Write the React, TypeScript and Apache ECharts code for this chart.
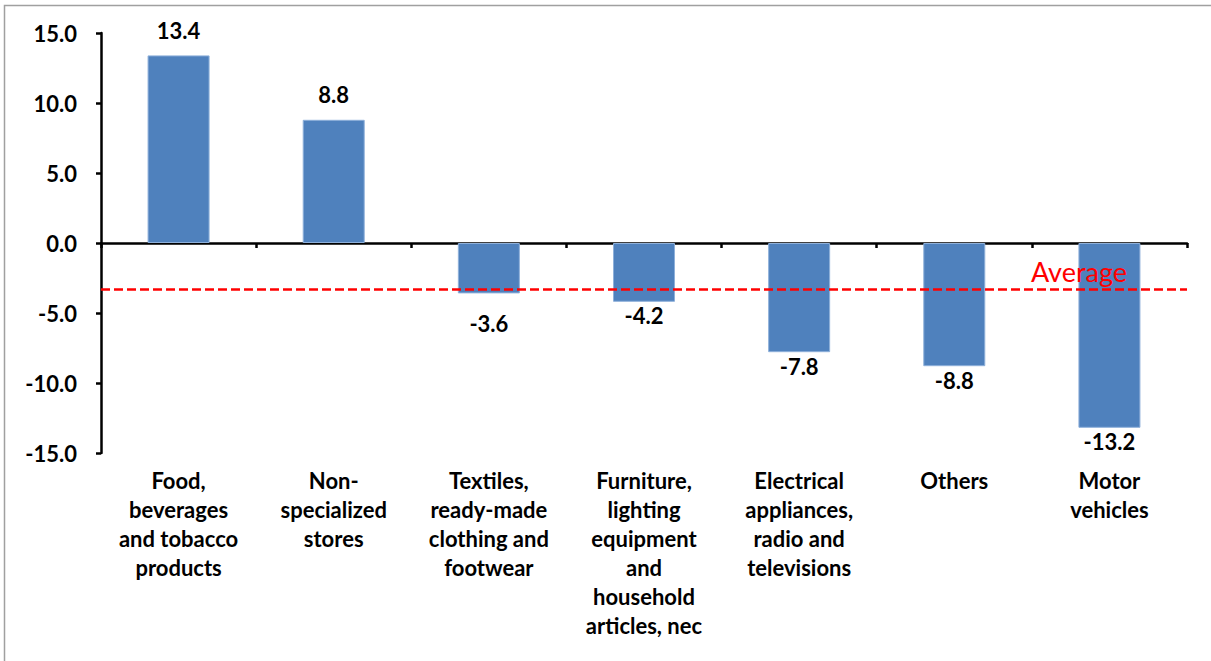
import React, { useEffect, useRef } from "react";
import * as echarts from "echarts";

const categories: string[] = [
  "Food,\nbeverages\nand tobacco\nproducts",
  "Non-\nspecialized\nstores",
  "Textiles,\nready-made\nclothing and\nfootwear",
  "Furniture,\nlighting\nequipment\nand\nhousehold\narticles, nec",
  "Electrical\nappliances,\nradio and\ntelevisions",
  "Others",
  "Motor\nvehicles",
];
const values: number[] = [13.4, 8.8, -3.6, -4.2, -7.8, -8.8, -13.2];
const averageValue = -3.3;
const averageLabel = "Average";
const yMin = -15;
const yMax = 15;
const yInterval = 5;

const FONT = "Lato, 'Noto Sans', sans-serif";

export default function App() {
  const ref = useRef<HTMLDivElement>(null);
  useEffect(() => {
    if (!ref.current) return;
    const chart = echarts.init(ref.current, undefined, { renderer: "svg" });
    const option: any = {
      animation: false,
      backgroundColor: "#ffffff",
      textStyle: { fontFamily: FONT },
      graphic: [
        {
          type: "rect",
          shape: { x: 4.5, y: 5.5, width: 1300, height: 800 },
          style: { fill: "none", stroke: "#a0a0a0", lineWidth: 1.5 },
          silent: true,
          z: -1,
        },
      ],
      grid: { left: 101, right: 24, top: 33, bottom: 208, containLabel: false },
      xAxis: [
        {
          type: "category",
          data: categories,
          position: "bottom",
          axisLine: { show: false, onZero: false },
          axisTick: { show: false },
          axisLabel: {
            interval: 0,
            margin: 13,
            color: "#000",
            fontFamily: FONT,
            fontWeight: "bold",
            fontSize: 22,
            lineHeight: 29,
            align: "center",
          },
          splitLine: { show: false },
        },
        {
          type: "category",
          data: categories,
          position: "bottom",
          axisLine: { show: true, onZero: true, lineStyle: { color: "#000", width: 2.5 } },
          axisTick: { show: true, inside: false, length: 5, lineStyle: { color: "#000", width: 2.5 } },
          axisLabel: { show: false },
          splitLine: { show: false },
        },
      ],
      yAxis: {
        type: "value",
        min: yMin,
        max: yMax,
        interval: yInterval,
        axisLine: { show: true, lineStyle: { color: "#000", width: 2.5 } },
        axisTick: { show: true, inside: false, length: 5, lineStyle: { color: "#000", width: 2.5 } },
        splitLine: { show: false },
        axisLabel: {
          margin: 24,
          color: "#000",
          fontFamily: FONT,
          fontWeight: "bold",
          fontSize: 22,
          formatter: (v: number) => v.toFixed(1),
        },
      },
      series: [
        {
          type: "bar",
          xAxisIndex: 0,
          barWidth: 62,
          itemStyle: { color: "#4F81BD", borderColor: "#8EB0DA", borderWidth: 1 },
          data: values.map((v, i) => ({
            value: v,
            label: {
              show: true,
              position: v >= 0 ? "top" : "bottom",
              distance: v >= 0 ? 14 : 3,
              offset: i === 2 ? [0, 16] : [0, 0],
              color: "#000",
              fontFamily: FONT,
              fontWeight: "bold",
              fontSize: 22,
              formatter: (p: any) => Number(p.value).toFixed(1),
            },
          })),
          markLine: {
            silent: true,
            symbol: ["none", "none"],
            lineStyle: { color: "#FF0000", type: [9, 4], width: 2.5 },
            label: {
              show: true,
              position: "insideEndTop",
              formatter: averageLabel,
              color: "#FF0000",
              fontFamily: FONT,
              fontSize: 27,
              fontWeight: "normal",
              padding: [0, 56, 0, 0],
              distance: 4,
            },
            data: [{ yAxis: averageValue }],
          },
        },
      ],
    };
    chart.setOption(option);
    return () => chart.dispose();
  }, []);
  return (
    <div
      ref={ref}
      style={{ position: "absolute", left: 0, top: 0, width: 1211, height: 661 }}
    />
  );
}
